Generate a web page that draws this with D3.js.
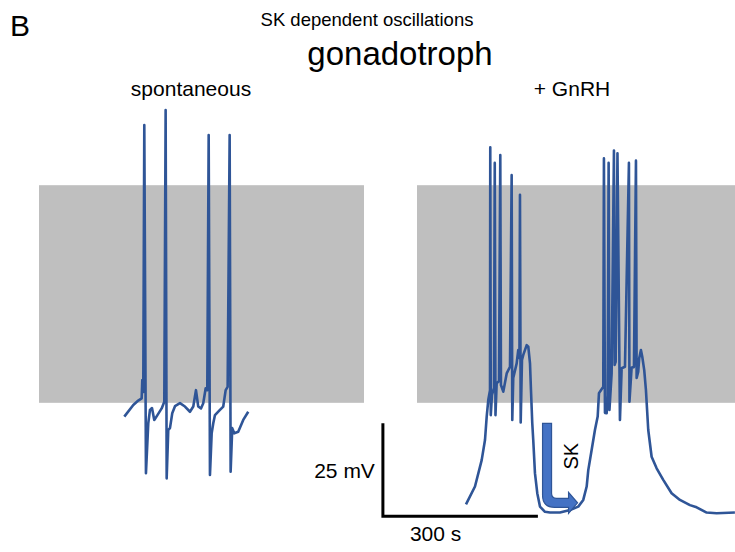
<!DOCTYPE html>
<html>
<head>
<meta charset="utf-8">
<script src="https://cdn.jsdelivr.net/npm/d3@7"></script>
<style>
  body { margin: 0; background: #fff; }
  text { font-family: "Liberation Sans", Arial, sans-serif; fill: #000; }
</style>
</head>
<body>
<script>
// spontaneous trace (s, mV)
const spontTime = [165.1, 182.5, 192.1, 198.7, 199.9, 201.8, 203.8, 207.0, 211.5, 214.8,
    218.7, 223.1, 228.3, 237.4, 242.5, 245.1, 247.1, 250.2, 253.5, 257.9,
    263.2, 272.8, 282.5, 292.2, 298.6, 303.8, 308.2, 313.5, 317.9, 322.6,
    325.7, 328.4, 330.9, 334.2, 337.3, 340.6, 350.2, 356.6, 361.3, 365.1,
    369.0, 370.9, 374.0, 377.9, 385.6, 395.3, 405.0]
const spontVolt = [-62.2, -59.1, -57.9, -57.3, -52.4, -55.6, 16.2, -77.4, -64.0, -60.4,
    -59.9, -63.1, -62.0, -60.0, -58.2, 20.2, -78.8, -65.8, -65.3, -61.3,
    -59.4, -58.6, -59.5, -60.9, -59.5, -55.1, -59.5, -60.0, -58.6, -54.6,
    -55.1, 13.5, -77.9, -66.7, -64.0, -61.8, -60.4, -59.5, -55.1, -54.2,
    13.5, -77.0, -65.3, -66.7, -66.3, -63.1, -60.9]

// + GnRH trace (s, mV)
const gnrhTime = [94.8, 112.2, 125.2, 131.6, 134.9, 138.0, 141.3, 141.8, 142.8, 145.1,
    149.0, 150.5, 151.9, 154.2, 158.7, 161.2, 162.5, 167.0, 173.6, 180.0,
    183.2, 184.4, 186.3, 192.9, 196.0, 198.3, 199.3, 200.7, 203.2, 205.7,
    212.3, 215.4, 218.7, 220.6, 223.1, 225.0, 228.3, 232.8, 238.0, 247.7,
    257.4, 276.7, 296.1, 312.1, 321.8, 328.4, 331.5, 338.0, 344.4, 349.7,
    352.2, 356.0, 360.5, 361.8, 363.8, 367.1, 369.0, 370.9, 372.5, 376.7,
    381.2, 382.5, 384.5, 388.0, 392.8, 396.1, 402.5, 410.2, 411.2, 415.4,
    419.9, 423.8, 425.1, 428.2, 430.1, 433.4, 436.0, 439.8, 443.1, 447.6,
    454.1, 463.8, 476.6, 492.8, 508.9, 528.3, 541.2, 560.6, 579.9, 615.3]
const gnrhVolt = [-85.8, -81.0, -73.9, -68.5, -62.2, -57.7, -55.1, 10.2, -61.8, -56.4,
    -54.5, 6.0, -61.8, -53.3, -52.6, 8.1, -53.7, -55.5, -50.6, -48.8,
    2.7, -63.1, -51.8, -47.9, -44.3, -46.5, -2.6, -63.8, -47.0, -45.6,
    -43.0, -43.4, -47.9, -55.1, -64.0, -68.5, -77.4, -82.8, -86.4, -87.8,
    -88.0, -88.0, -87.3, -86.4, -84.6, -81.0, -76.6, -71.2, -65.8, -62.2,
    -55.9, -55.1, -54.2, 7.2, -61.2, -61.3, -56.4, 6.0, -60.4, -50.6,
    9.3, -48.3, -47.5, 8.6, -63.1, -49.2, -48.8, 6.0, -58.2, -49.0,
    -48.9, 6.6, -51.8, -50.1, -46.5, -44.3, -46.1, -49.7, -55.1, -65.8,
    -73.0, -76.1, -79.2, -82.8, -84.6, -86.0, -86.6, -88.0, -88.2, -88.0]

// grey band and scale bar
const bandVolt = [-58.5, 0]
const leftBandTime = [0, 629]
const rightBandTime = [0, 620]
const scaleBarTime = [-66, 234]   // 300 s
const scaleBarVolt = [-89, -64]   // 25 mV

const w = 735
const h = 552
const pxPerSec = 155 / 300
const pxPerMv = 3.72

const svg = d3.select('body')
    .append('svg')
    .attr('width', w)
    .attr('height', h)

const xLeft = d3.scaleLinear()
    .domain([0, 629])
    .range([39, 39 + 629 * pxPerSec])

const xRight = d3.scaleLinear()
    .domain([0, 620])
    .range([417, 417 + 620 * pxPerSec])

const yScale = d3.scaleLinear()
    .domain([-90, 20])
    .range([520, 520 - 110 * pxPerMv])

// grey boxes
const bands = [{x: xLeft, t: leftBandTime}, {x: xRight, t: rightBandTime}]
svg.selectAll('rect.band')
    .data(bands)
    .enter()
    .append('rect')
    .attr('class', 'band')
    .attr('x', d => d.x(d.t[0]))
    .attr('width', d => d.x(d.t[1]) - d.x(d.t[0]))
    .attr('y', yScale(bandVolt[1]))
    .attr('height', yScale(bandVolt[0]) - yScale(bandVolt[1]))
    .attr('fill', '#bfbfbf')

function trace(times, volts, x) {
    const line = d3.line()
        .x(i => x(times[i]))
        .y(i => yScale(volts[i]))
    svg.append('path')
        .attr('d', line(d3.range(times.length)))
        .attr('fill', 'none')
        .attr('stroke', '#2f5597')
        .attr('stroke-width', 2.6)
        .attr('stroke-linejoin', 'round')
}
trace(spontTime, spontVolt, xLeft)
trace(gnrhTime, gnrhVolt, xRight)

// scale bar
const sbX0 = xRight(scaleBarTime[0])
const sbX1 = xRight(scaleBarTime[1])
const sbY0 = yScale(scaleBarVolt[0])
const sbY1 = yScale(scaleBarVolt[1])
svg.append('path')
    .attr('d', `M${sbX0},${sbY1} V${sbY0} H${sbX1}`)
    .attr('fill', 'none')
    .attr('stroke', '#000')
    .attr('stroke-width', 3)

svg.append('text')
    .attr('x', sbX0 - 8)
    .attr('y', (sbY0 + sbY1) / 2 + 8)
    .attr('text-anchor', 'end')
    .attr('font-size', 21)
    .text('25 mV')

svg.append('text')
    .attr('x', sbX0 + 27)
    .attr('y', sbY0 + 25)
    .attr('font-size', 21)
    .text('300 s')

// SK arrow
const ax = xRight(243)
const ay = yScale(-64)
svg.append('path')
    .attr('transform', `translate(${ax},${ay})`)
    .attr('d', 'M0,0 H9 V70 Q9,75 14,75 H26 V69 L35,79.5 L26,90 V84 H12 Q0,84 0,72 Z')
    .attr('fill', '#4472c4')
    .attr('stroke', '#2f5597')
    .attr('stroke-width', 1.2)

svg.append('text')
    .attr('transform', `translate(${ax + 35},${ay + 33}) rotate(-90)`)
    .attr('text-anchor', 'middle')
    .attr('font-size', 20)
    .text('SK')

// titles
svg.append('text').attr('x', 10).attr('y', 36).attr('font-size', 30).text('B')
svg.append('text').attr('x', 367).attr('y', 26).attr('text-anchor', 'middle')
    .attr('font-size', 18.5).text('SK dependent oscillations')
svg.append('text').attr('x', 400).attr('y', 65).attr('text-anchor', 'middle')
    .attr('font-size', 33).text('gonadotroph')
svg.append('text').attr('x', 191).attr('y', 96).attr('text-anchor', 'middle')
    .attr('font-size', 21).text('spontaneous')
svg.append('text').attr('x', 572).attr('y', 96).attr('text-anchor', 'middle')
    .attr('font-size', 21).text('+ GnRH')
</script>
</body>
</html>
